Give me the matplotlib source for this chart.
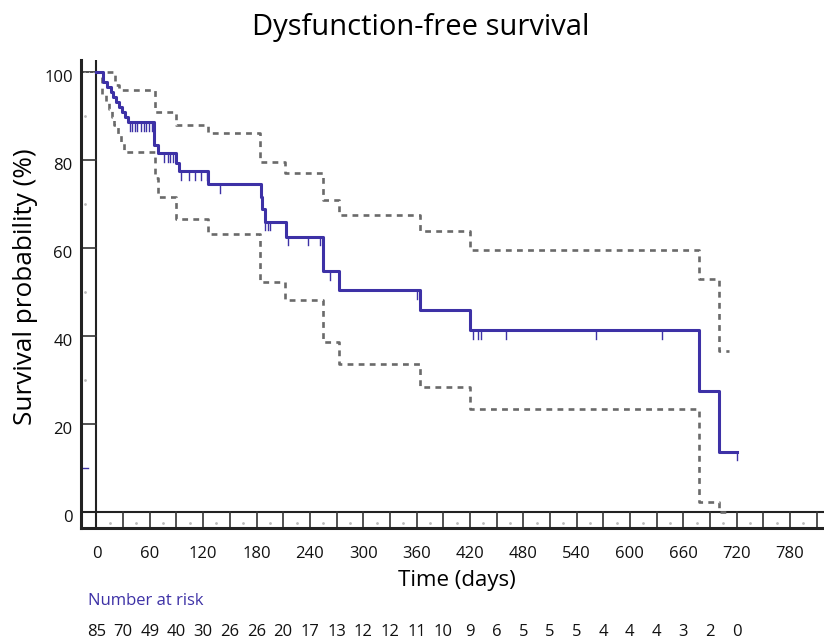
import matplotlib.pyplot as plt
import matplotlib.transforms as mtransforms

plt.rcParams['font.family'] = ['Open Sans', 'DejaVu Sans']

# ── Data ───────────────────────────────────────────────────
km_t = [0, 7, 12, 16, 19, 22, 25, 29, 32, 36, 65, 69, 90, 93, 126,
        185, 186.5, 189, 213, 255, 273, 364, 420, 678, 700, 720]
km_s = [100, 97.7, 96.5, 95.4, 94.3, 93.2, 92.0, 90.9, 89.8, 88.6, 83.3, 81.5,
        79.3, 77.4, 74.5, 71.6, 68.9, 66.0, 62.6, 54.7, 50.5, 45.9, 41.3,
        27.5, 13.8, 13.8]

hi_t = [0, 21, 25, 66, 90, 126, 184, 212, 255, 273, 364, 420, 678, 700, 711]
hi_s = [100, 97.0, 95.8, 90.8, 87.9, 86.2, 79.6, 77.1, 71.0, 67.6, 63.8,
        59.5, 52.9, 36.7, 36.7]

lo_t = [0, 6, 11, 14, 17, 20, 24, 28, 31, 66, 69, 90, 126,
        184, 212, 255, 273, 364, 420, 678, 700, 712]
lo_s = [100, 94.7, 93.0, 91.5, 89.8, 88.0, 86.0, 84.0, 81.9, 76.0, 71.7,
        66.5, 63.2, 52.3, 48.3, 38.7, 33.7, 28.4, 23.5, 2.4, 0.0, 0.0]

censor_t = [38, 40, 43, 46, 50, 53, 56, 59, 62,
            76, 80, 83, 86,
            95, 104, 111, 118, 124,
            139,
            190, 192.5, 195,
            215, 238, 251,
            263,
            361,
            423, 429.5, 432.5, 460.5, 562, 636,
            720]

risk_t = list(range(0, 721, 30))
risk_n = [85, 70, 49, 40, 30, 26, 26, 20, 17, 13, 12, 12, 11, 10, 9,
          6, 5, 5, 5, 4, 4, 4, 3, 2, 0]

x_ticks = list(range(0, 781, 60))
y_ticks = [0, 20, 40, 60, 80, 100]

blue = '#3d31a6'
grey = '#6a6a6a'


def step_value(t, ts, ss):
    v = ss[0]
    for ti, si in zip(ts, ss):
        if ti <= t:
            v = si
    return v


# ── Figure ─────────────────────────────────────────────────
fig = plt.figure(figsize=(8.24, 6.41), dpi=100)
ax = fig.add_axes([81 / 824, (641 - 528.3) / 641, 1 - 81 / 824, (528.3 - 60) / 641])
x0, x1 = -17.4, 818.3
y0, y1 = -3.6, 102.7
ax.set_xlim(x0, x1)
ax.set_ylim(y0, y1)

for s in ['top', 'right']:
    ax.spines[s].set_visible(False)
for s in ['left', 'bottom']:
    ax.spines[s].set_linewidth(2.2)
    ax.spines[s].set_color('#222222')

# inner axes lines
ax.axvline(0, color='#222222', lw=1.5, zorder=2)
ax.axhline(0, color='#222222', lw=1.5, zorder=2)

# cell lines in the strips
fy0 = (0 - y0) / (y1 - y0)
fx0 = (0 - x0) / (x1 - x0)
for t in range(30, 811, 30):
    ax.axvline(t, ymin=0, ymax=fy0, color='#333333', lw=1.2)
for v in y_ticks[1:]:
    ax.axhline(v, xmin=0, xmax=fx0, color='#333333', lw=1.2)
ax.scatter(range(15, 811, 30), [-2.4] * len(range(15, 811, 30)),
           s=1, color='#bbbbbb', zorder=3)
ax.scatter([-13] * 4, [90, 70, 50, 30], s=1, color='#bbbbbb', zorder=3)
ax.plot([-17.4, -9.6], [10, 10], color=blue, lw=1.0)
ax.plot([-14, 0], [100, 100], color='#aaaaaa', lw=0.8, ls=(0, (1, 3)))

# confidence limits
ax.step(hi_t, hi_s, where='post', color=grey, lw=1.9,
        ls=(0, (2.2, 2.0)), zorder=3)
ax.step(lo_t, lo_s, where='post', color=grey, lw=1.9,
        ls=(0, (2.2, 2.0)), zorder=3)

# survival curve
ax.step(km_t, km_s, where='post', color=blue, lw=2.2, zorder=4)

# censor marks
for t in censor_t:
    v = step_value(t, km_t, km_s)
    ax.plot([t, t], [v, v - 2.0], color=blue, lw=1.0, zorder=4)

# ── Ticks / labels ─────────────────────────────────────────
ax.set_xticks(x_ticks)
ax.set_yticks(y_ticks)
ax.tick_params(axis='both', length=0, labelsize=12, colors='#111111')
ax.tick_params(axis='x', pad=13)
ax.tick_params(axis='y', pad=6)
off = mtransforms.ScaledTranslation(0, -4 / 100, fig.dpi_scale_trans)
for lbl in ax.get_yticklabels():
    lbl.set_transform(lbl.get_transform() + off)

ax.set_xlabel('Time (days)', fontsize=16)
ax.xaxis.set_label_coords(0.506, -0.1125)
ax.xaxis.label.set_va('center')
ax.set_ylabel('Survival probability (%)', fontsize=18.8)
ax.yaxis.set_label_coords(-0.075, 0.515)
ax.yaxis.label.set_va('center')

fig.text(0.51, 1 - 27 / 641, 'Dysfunction-free survival', fontsize=21,
         ha='center', va='center')

# ── Number at risk ─────────────────────────────────────────
fig.text(88 / 824, 1 - 601 / 641, 'Number at risk', color=blue,
         fontsize=12, ha='left', va='center')
trans = mtransforms.blended_transform_factory(ax.transData, fig.transFigure)
for t, n in zip(risk_t, risk_n):
    ax.text(t, 1 - 632 / 641, str(n), transform=trans, fontsize=12,
            ha='center', va='center', color='#111111', clip_on=False)

fig.savefig('out.png', dpi=100)
